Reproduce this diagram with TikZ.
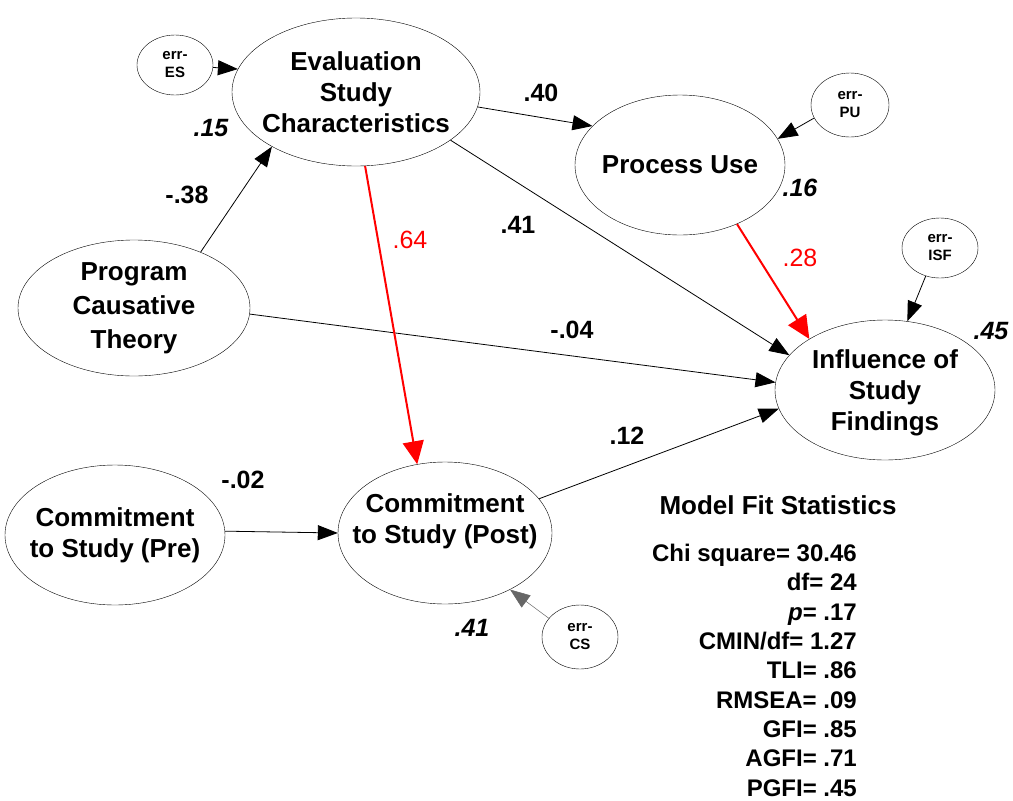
\documentclass[tikz,border=0pt]{standalone}
\usepackage{fontspec}
\setmainfont{Liberation Sans}
\usetikzlibrary{shapes.geometric,arrows.meta}

\begin{document}
\begin{tikzpicture}[x=1pt,y=-1pt,>={Triangle[length=20pt,width=15pt]}]
    \tikzstyle{latent}=[draw,ellipse,inner sep=-40pt,align=center,font=\fontsize{26}{31}\selectfont\bfseries]
    \tikzstyle{errvar}=[draw,ellipse,inner sep=-20pt,minimum width=76pt,minimum height=60pt,align=center,font=\fontsize{15}{18}\selectfont\bfseries]
    \tikzstyle{coef}=[font=\fontsize{25}{30}\selectfont\bfseries]
    \tikzstyle{rsq}=[font=\fontsize{25}{30}\selectfont\bfseries\itshape]
    \tikzstyle{redcoef}=[text=red,font=\fontsize{25}{30}\selectfont]
    \tikzstyle{effect}=[->,line width=.8pt]
    \tikzstyle{redeffect}=[->,red,line width=2pt,>={Triangle[length=23pt,width=21pt]}]
    \useasboundingbox (0,0) rectangle (1013,801);
    \node[latent,minimum width=248pt,minimum height=148pt] (esc)  at (356,92)  {Evaluation\\Study\\Characteristics};
    \node[latent,minimum width=210pt,minimum height=140pt] (pu)   at (680,165) {Process Use};
    \node[latent,minimum width=232pt,minimum height=136pt,font=\fontsize{26}{34}\selectfont\bfseries] (pct) at (134,308) {Program\\Causative\\Theory};
    \node[latent,minimum width=220pt,minimum height=140pt,text depth=0pt] (isf) at (885,390) {Influence of\\Study\\Findings};
    \node[latent,minimum width=220pt,minimum height=140pt] (pre)  at (115,535) {Commitment\\to Study (Pre)};
    \node[latent,minimum width=214pt,minimum height=142pt,text depth=28pt] (post) at (445,533) {Commitment\\to Study (Post)};
    \node[errvar] (eES)  at (175,65)  {err-\\ES};
    \node[errvar,minimum width=78pt,minimum height=64pt] (ePU)  at (850,105) {err-\\PU};
    \node[errvar] (eISF) at (940,248) {err-\\ISF};
    \node[errvar,minimum height=64pt] (eCS)  at (580,637) {err-\\CS};
    % path coefficients
    \node[coef]    (c-pct-esc)  at (187,195) {-.38};
    \node[coef]    (c-esc-pu)   at (541,93)  {.40};
    \node[coef]    (c-esc-isf)  at (518,225) {.41};
    \node[redcoef] (c-esc-post) at (410,240) {.64};
    \node[coef]    (c-pct-isf)  at (572,330) {-.04};
    \node[redcoef] (c-pu-isf)   at (800,258) {.28};
    \node[coef]    (c-pre-post) at (243,480) {-.02};
    \node[coef]    (c-post-isf) at (627,436) {.12};
    \node[rsq] (r-esc)  at (211,128) {.15};
    \node[rsq] (r-pu)   at (800,188) {.16};
    \node[rsq] (r-isf)  at (991,331) {.45};
    \node[rsq] (r-post) at (472,628) {.41};
    % fit
    \node[font=\fontsize{26}{31}\selectfont\bfseries] (fit) at (778,505) {Model Fit Statistics};
    \node[anchor=north east,inner sep=0pt,align=right,font=\fontsize{24}{29.3}\selectfont\bfseries] (stats) at (857,544)
      {Chi square= 30.46\\df= 24\\\textit{p}= .17\\CMIN/df= 1.27\\TLI= .86\\RMSEA= .09\\GFI= .85\\AGFI= .71\\PGFI= .45};
    \draw[effect] (eES) -- (esc.169);
    \draw[effect] (pct.40) -- (esc.213);
    \draw[effect] (esc.-7) -- (pu.156);
    \draw[effect] (esc.-27) -- (isf.160);
    \draw[effect] (pct.-3) -- (isf.176);
    \draw[redeffect] (esc.-83) -- (post.112);
    \draw[redeffect] (pu.-46) -- (isf.146);
    \draw[effect] (ePU.200) -- (pu.15);
    \draw[effect] (eISF.243) -- (isf.72);
    \draw[effect] (pre.2) -- (post.180);
    \draw[effect] (post.20) -- (isf.190);
    \draw[->,line width=.5pt,draw=black!60] (eCS.149) -- (post.-41);
  \end{tikzpicture}
\end{document}
